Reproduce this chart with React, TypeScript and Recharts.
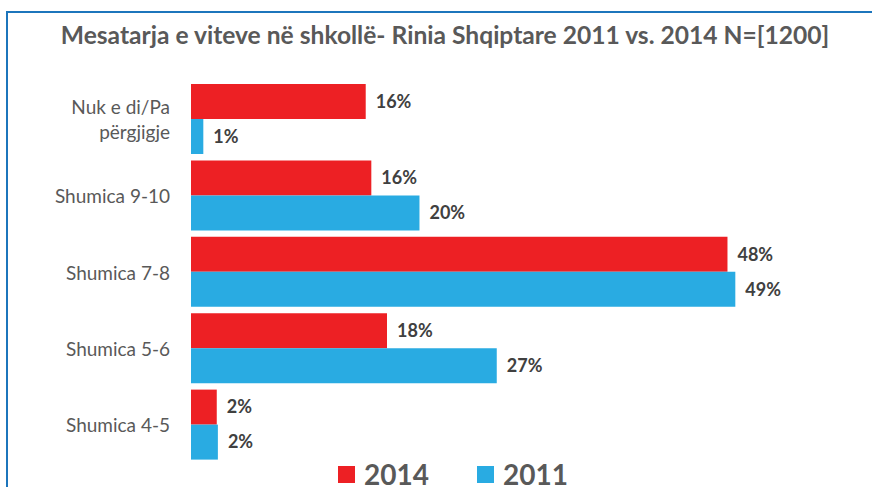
import { BarChart, Bar, XAxis, YAxis, LabelList, Legend } from 'recharts';

const categories = ['Nuk e di/Pa përgjigje', 'Shumica 9-10', 'Shumica 7-8', 'Shumica 5-6', 'Shumica 4-5'];
const values2014 = [15.6, 16.1, 47.9, 17.5, 2.3];
const values2011 = [1.1, 20.4, 48.6, 27.3, 2.4];
const seriesNames = ['2014', '2011'];
const seriesColors = ['#ed2024', '#29abe2'];

const data = categories.map((name, i) => ({
    name,
    y2014: values2014[i],
    y2011: values2011[i],
}));

const FONT = 'Lato, "Open Sans", sans-serif';
const GREY = '#595959';

// long category names get split onto two lines
function CategoryTick(props: any) {
    const { x, y, payload } = props;
    const label: string = payload.value;
    const cut = label.indexOf('/') + 3;
    const lines = label.length > 14 ? [label.slice(0, cut), label.slice(cut + 1)] : [label];
    const lineHeight = 25;
    const startY = y - ((lines.length - 1) * lineHeight) / 2;
    return (
        <text x={x} y={startY} textAnchor="end" fill={GREY} fontSize={19} fontFamily={FONT}>
            {lines.map((line, i) => (
                <tspan key={i} x={x} y={startY + i * lineHeight} dominantBaseline="central">{line}</tspan>
            ))}
        </text>
    );
}

function LegendContent() {
    const items = seriesNames.map((name, i) => ({ value: name, color: seriesColors[i] }));
    return (
        <div style={{ display: 'flex', gap: 48, paddingLeft: 338 }}>
            {items.map((entry) => (
                <div key={entry.value} style={{ display: 'flex', alignItems: 'center', gap: 9 }}>
                    <span style={{ width: 17, height: 17, background: entry.color, display: 'inline-block' }} />
                    <span style={{ fontFamily: FONT, fontWeight: 700, fontSize: 28, color: GREY, lineHeight: '28px' }}>{entry.value}</span>
                </div>
            ))}
        </div>
    );
}

export default function App() {
    const fmt = (v: any) => `${Math.round(Number(v))}%`;
    return (
        <div style={{ position: 'fixed', left: 0, top: 0, width: 872, height: 487, overflow: 'hidden', background: '#fff' }}>
            <div style={{ position: 'absolute', left: 6, top: 11, width: 900, height: 520, borderTop: '2px solid #1c75bc', borderLeft: '2px solid #1c75bc' }} />
            <div style={{ position: 'absolute', left: 50, top: 20, width: 790, textAlign: 'center', fontFamily: FONT, fontWeight: 700, fontSize: 24.6, color: GREY, whiteSpace: 'nowrap' }}>
                Mesatarja e viteve në shkollë- Rinia Shqiptare 2011 vs. 2014 N=[1200]
            </div>
            <div style={{ position: 'absolute', left: 0, top: 0 }}>
                <BarChart
                    width={872}
                    height={500}
                    layout="vertical"
                    data={data}
                    margin={{ top: 81, right: 121, bottom: 37, left: 0 }}
                    barGap={0}
                    barSize={35}
                >
                    <XAxis type="number" domain={[0, 50]} hide />
                    <YAxis
                        type="category"
                        dataKey="name"
                        width={191}
                        axisLine={false}
                        tickLine={false}
                        tickSize={0}
                        tickMargin={21}
                        tick={<CategoryTick />}
                    />
                    <Legend
                        layout="horizontal"
                        verticalAlign="middle"
                        align="center"
                        content={<LegendContent />}
                        wrapperStyle={{ top: 460, left: 0, width: 872 }}
                    />
                    <Bar dataKey="y2014" name={seriesNames[0]} fill={seriesColors[0]} isAnimationActive={false}>
                        <LabelList dataKey="y2014" position="right" offset={10} formatter={fmt} fill="#404040" fontSize={18} fontWeight={700} fontFamily={FONT} />
                    </Bar>
                    <Bar dataKey="y2011" name={seriesNames[1]} fill={seriesColors[1]} isAnimationActive={false}>
                        <LabelList dataKey="y2011" position="right" offset={10} formatter={fmt} fill="#404040" fontSize={18} fontWeight={700} fontFamily={FONT} />
                    </Bar>
                </BarChart>
            </div>
        </div>
    );
}
